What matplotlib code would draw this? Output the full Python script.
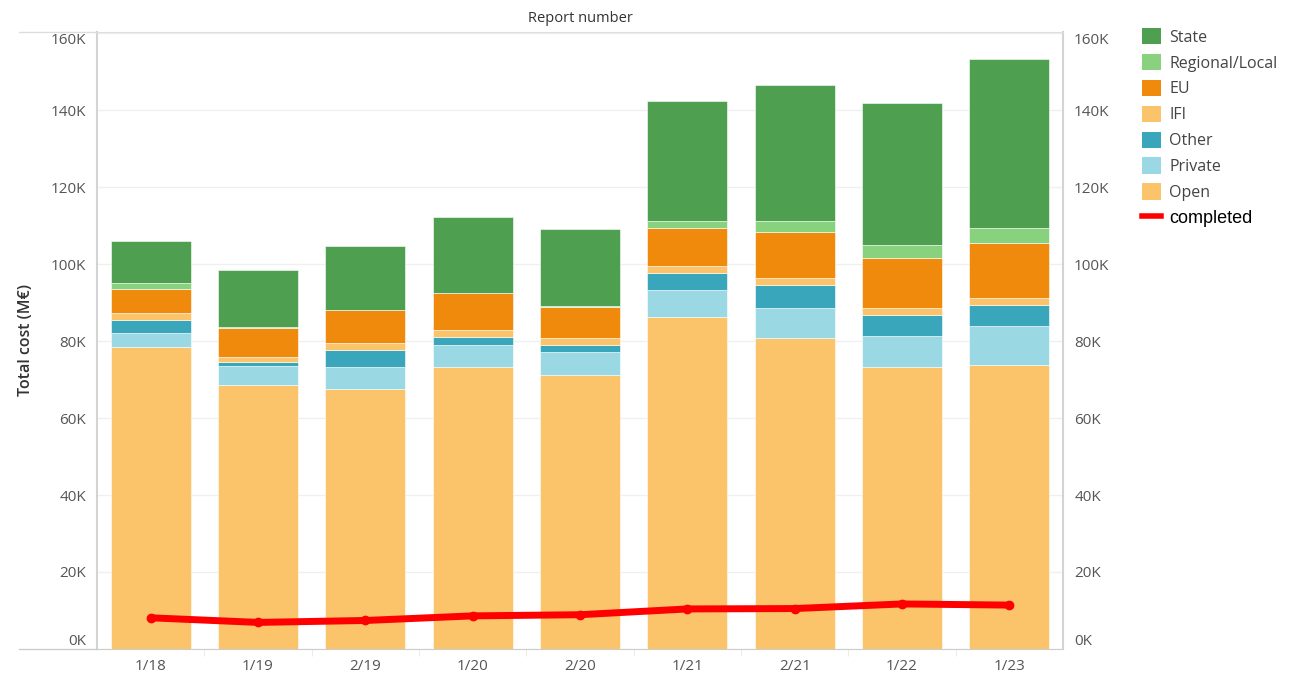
import matplotlib
matplotlib.use("Agg")
import matplotlib.pyplot as plt
import numpy as np
from matplotlib.patches import Patch
from matplotlib.lines import Line2D
from matplotlib.ticker import FuncFormatter, FixedLocator

plt.rcParams["font.family"] = ["Open Sans", "DejaVu Sans"]

# ---------------------------------------------------------------------------
# data (M€)
# ---------------------------------------------------------------------------
reports = ["1/18", "1/19", "2/19", "1/20", "2/20", "1/21", "2/21", "1/22", "1/23"]

open_ = [78400, 68600, 67500, 73200, 71200, 86300, 80900, 73200, 73800]
private = [3700, 4900, 5700, 5800, 5900, 6900, 7800, 8200, 10100]
other = [3500, 1100, 4500, 2100, 2000, 4500, 5900, 5300, 5500]
ifi = [1800, 1300, 1700, 1800, 1800, 1800, 1700, 2000, 1700]
eu = [6100, 7400, 8600, 9500, 8000, 10000, 12100, 12800, 14300]
regional = [1700, 300, 200, 200, 200, 1700, 2700, 3400, 4000]
state = [10800, 14800, 16500, 19700, 19900, 31100, 35400, 37000, 43800]

completed = [8100, 6900, 7400, 8600, 8900, 10400, 10500, 11700, 11400]

# stack order bottom -> top
stack_names = ["Open", "Private", "Other", "IFI", "EU", "Regional/Local", "State"]
stack_values = [open_, private, other, ifi, eu, regional, state]
stack_colors = ["#fbc46a", "#9ad9e3", "#3aa6bb", "#fbc46a", "#ef8a0c", "#88d27e", "#4e9f50"]

legend_order = ["State", "Regional/Local", "EU", "IFI", "Other", "Private", "Open"]

# ---------------------------------------------------------------------------
fig = plt.figure(figsize=(12.94, 6.77), dpi=100)
ax = fig.add_axes([0.075, 0.0414, 0.7465, 0.9113])

x = np.arange(len(reports))
bottom = np.zeros(len(reports))
for name, vals, col in zip(stack_names, stack_values, stack_colors):
    ax.bar(x, vals, width=0.745, bottom=bottom, color=col,
           edgecolor="white", linewidth=0.4, zorder=2)
    bottom += np.array(vals)

ax.plot(x, completed, color="#ff0000", linewidth=5, marker="o",
        markersize=6, solid_capstyle="round", zorder=3)

ax.set_xlim(-0.5, len(reports) - 0.5)
ax.set_ylim(0, 160300)

yticks = np.arange(0, 160001, 20000)
fmt = FuncFormatter(lambda v, p: f"{int(v / 1000)}K")
ax.yaxis.set_major_locator(FixedLocator(yticks))
ax.yaxis.set_major_formatter(fmt)
ax.grid(axis="y", color="#f0f0f0", linewidth=1, zorder=0)
ax.set_axisbelow(True)

ax.set_xticks(x)
ax.set_xticklabels(reports)
ax.xaxis.set_minor_locator(FixedLocator(x[:-1] + 0.5))
ax.tick_params(axis="x", which="major", length=0, labelsize=11,
               labelcolor="#555555", pad=7)
ax.tick_params(axis="x", which="minor", length=5, color="#e6e6e6")
ax.tick_params(axis="y", length=0, labelsize=11, labelcolor="#555555", pad=8)

ax.spines["top"].set_color("#dddddd")
ax.spines["bottom"].set_color("#cccccc")
ax.spines["left"].set_color("#d4d4d4")
ax.spines["left"].set_linewidth(1.5)
ax.spines["right"].set_color("#d4d4d4")
ax.spines["right"].set_linewidth(1.5)

# right duplicate axis
ax2 = ax.twinx()
ax2.set_ylim(ax.get_ylim())
ax2.yaxis.set_major_locator(FixedLocator(yticks))
ax2.yaxis.set_major_formatter(fmt)
ax2.tick_params(axis="y", length=0, labelsize=11, labelcolor="#555555", pad=8)
for s in ax2.spines.values():
    s.set_visible(False)

# tableau nudges end labels inside
for a in (ax, ax2):
    labels = a.get_yticklabels()
    labels[0].set_verticalalignment("bottom")
    labels[-1].set_verticalalignment("top")

ax.set_ylabel("Total cost (M€)", fontsize=11.5, fontweight="semibold",
              color="#333333", labelpad=12)
fig.text(0.4485, 0.973, "Report number", ha="center", va="center",
         fontsize=10.5, color="#333333")

# extend top/bottom border lines to the left like tableau frame
fig.add_artist(Line2D([0.015, 0.075], [0.9527, 0.9527], color="#dddddd", lw=1))
fig.add_artist(Line2D([0.015, 0.075], [0.0414, 0.0414], color="#cccccc", lw=1))

# legend
col_of = dict(zip(stack_names, stack_colors))
handles = [Patch(facecolor=col_of[n], edgecolor="none") for n in legend_order]
handles.append(Line2D([0], [0], color="#ff0000", lw=4))
labels = legend_order + ["completed"]
leg = fig.legend(handles, labels, loc="upper left",
                 bbox_to_anchor=(0.8775, 0.968), frameon=False,
                 fontsize=11.5, handlelength=1.2, handleheight=1.2,
                 handletextpad=0.5, labelspacing=0.52, borderaxespad=0)
for t in leg.get_texts()[:-1]:
    t.set_color("#444444")
leg.get_texts()[-1].set_fontfamily(["Liberation Sans", "DejaVu Sans"])
leg.get_texts()[-1].set_fontsize(13)
leg.get_texts()[-1].set_color("black")

fig.savefig("out.png", dpi=100)
